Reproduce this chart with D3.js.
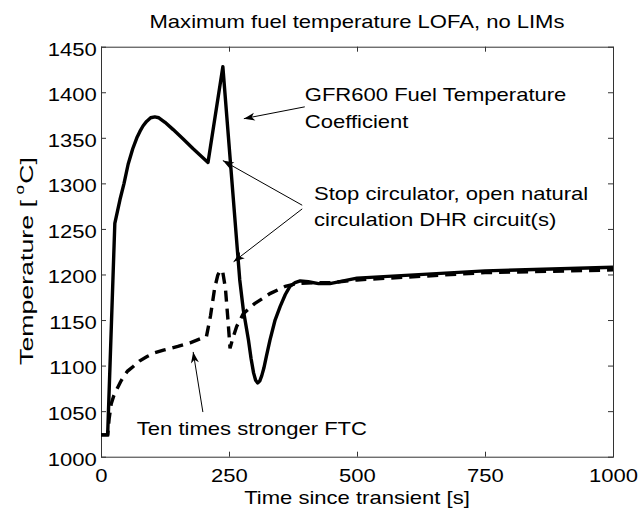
<!DOCTYPE html>
<html>
<head>
<meta charset="utf-8">
<script src="https://cdn.jsdelivr.net/npm/d3@7"></script>
<style>
  body { margin: 0; background: #fff; }
  text { font-family: "Liberation Sans", Arial, sans-serif; font-size: 19px; fill: #000; }
</style>
</head>
<body>
<script>
// data: time [s] and max fuel temperature [C]
const timeFTC = [0, 13, 27, 37, 45, 53, 62, 70, 76, 82, 89, 97, 105, 113, 125, 141, 160, 180, 209, 238, 271, 278, 288, 293, 298, 302, 306, 310, 314, 318, 323, 330, 340, 350, 360, 369, 379, 389, 405, 425, 447, 500, 750, 1000];
const tempFTC = [1024, 1024, 1256, 1282, 1300, 1321, 1338, 1350, 1357, 1363, 1368, 1372, 1373, 1372, 1367, 1359, 1349, 1338, 1323, 1428, 1194, 1161, 1128, 1108, 1092, 1084, 1081, 1083, 1089, 1097, 1110, 1128, 1150, 1165, 1178, 1187, 1191, 1193, 1192, 1190, 1190, 1196, 1204, 1208];

const timeStrong = [0, 13, 16, 20, 25, 31, 38, 44, 52, 63, 75, 90, 105, 122, 150, 174, 206, 214, 222, 228, 233, 238, 243, 248, 252, 258, 265, 278, 300, 330, 360, 382, 420, 450, 500, 750, 1000];
const tempStrong = [1024, 1024, 1042, 1058, 1067, 1074, 1082, 1088, 1094, 1099, 1105, 1110, 1114, 1117, 1121, 1125, 1132, 1155, 1185, 1199, 1205, 1202, 1185, 1150, 1119, 1131, 1143, 1157, 1168, 1179, 1187, 1190, 1191, 1191, 1194, 1202, 1205];

const xTicks = [0, 250, 500, 750, 1000];
const yTicks = [1000, 1050, 1100, 1150, 1200, 1250, 1300, 1350, 1400, 1450];

// annotations in data units: arrows are [tail x, tail y, head x, head y]
const notes = [
  { lines: ["GFR600 Fuel Temperature", "Coefficient"], at: [398, 1390], arrows: [[398, 1384, 279, 1371]] },
  { lines: ["Stop circulator, open natural", "circulation DHR circuit(s)"], at: [416, 1282], arrows: [[393, 1276, 238, 1325], [393, 1272, 259, 1214]] },
  { lines: ["Ten times stronger FTC"], at: [70, 1024], arrows: [[199, 1049, 180, 1115]] }
];

const W = 639, H = 510;
const margin = { top: 46.7, right: 26, bottom: 53.3, left: 101 };
const width = W - margin.left - margin.right,
  height = H - margin.top - margin.bottom;
const SX = 1.16; // the picture's text is stretched sideways

const root = d3.select("body").append("svg")
  .attr("width", W).attr("height", H);

root.append("defs").append("marker")
  .attr("id", "head")
  .attr("markerUnits", "userSpaceOnUse")
  .attr("viewBox", "-12 -5 13 10")
  .attr("refX", 0).attr("refY", 0)
  .attr("markerWidth", 13).attr("markerHeight", 10)
  .attr("orient", "auto")
  .append("path")
  .attr("d", "M0,0 L-11,-4 L-8,0 L-11,4 Z")
  .attr("fill", "#000");

const svg = root.append("g")
  .attr("transform", `translate(${margin.left},${margin.top})`);

const x = d3.scaleLinear().domain([0, 1000]).range([0, width]);
const y = d3.scaleLinear().domain([1000, 1450]).range([height, 0]);
const fmt = d3.format("d");

// axes, ticks pointing inward like matlab
const gx = svg.append("g").attr("transform", `translate(0,${height})`)
  .call(d3.axisBottom(x).tickValues(xTicks).tickFormat(fmt).tickSizeInner(-5).tickSizeOuter(0));
gx.selectAll(".tick text").attr("y", 25.6).attr("dy", 0)
  .attr("transform", `scale(${SX},1)`);

const gy = svg.append("g")
  .call(d3.axisLeft(y).tickValues(yTicks).tickFormat(fmt).tickSizeInner(-5).tickSizeOuter(0));
gy.selectAll(".tick text").attr("x", -4.3 / SX).attr("y", 8.3).attr("dy", 0)
  .attr("transform", `scale(${SX},1)`);

svg.append("g")
  .call(d3.axisTop(x).tickValues(xTicks).tickSizeInner(-5).tickSizeOuter(0).tickFormat(""));
svg.append("g").attr("transform", `translate(${width},0)`)
  .call(d3.axisRight(y).tickValues(yTicks).tickSizeInner(-5).tickSizeOuter(0).tickFormat(""));

svg.selectAll(".domain").remove();
svg.selectAll(".tick line").attr("stroke", "#333");
svg.selectAll(".tick text").attr("fill", "#000");

svg.append("rect")
  .attr("x", 0.5).attr("y", 0.5)
  .attr("width", width).attr("height", height)
  .attr("fill", "none").attr("stroke", "#333");

// curves
const line = d3.line().x(d => x(d[0])).y(d => y(d[1]));

svg.append("path")
  .datum(d3.zip(timeStrong, tempStrong))
  .attr("fill", "none")
  .attr("stroke", "#000")
  .attr("stroke-width", 3.4)
  .attr("stroke-dasharray", "11,7")
  .attr("d", line);

svg.append("path")
  .datum(d3.zip(timeFTC, tempFTC))
  .attr("fill", "none")
  .attr("stroke", "#000")
  .attr("stroke-width", 3.4)
  .attr("stroke-linejoin", "round")
  .attr("d", line);

// annotations
notes.forEach(n => {
  n.lines.forEach((s, i) => {
    svg.append("text")
      .attr("transform", `translate(${x(n.at[0])},${y(n.at[1]) + i * 26.6}) scale(${SX},1)`)
      .text(s);
  });
  n.arrows.forEach(a => {
    svg.append("line")
      .attr("x1", x(a[0])).attr("y1", y(a[1]))
      .attr("x2", x(a[2])).attr("y2", y(a[3]))
      .attr("stroke", "#000")
      .attr("stroke-width", 1)
      .attr("marker-end", "url(#head)");
  });
});

// title and axis labels
root.append("text")
  .attr("transform", `translate(${margin.left + width / 2},28.3) scale(${SX},1)`)
  .attr("text-anchor", "middle")
  .text("Maximum fuel temperature LOFA, no LIMs");

root.append("text")
  .attr("transform", `translate(${margin.left + width / 2},504) scale(${SX},1)`)
  .attr("text-anchor", "middle")
  .text("Time since transient [s]");

const ylab = root.append("text").attr("text-anchor", "middle");
ylab.append("tspan").text("Temperature [");
ylab.append("tspan").attr("font-size", 12).attr("dx", 4).attr("dy", -9).text("o");
ylab.append("tspan").attr("dx", 1).attr("dy", 9).text("C]");
const ylen = ylab.node().getComputedTextLength();
ylab.attr("transform", `translate(33.3,261) rotate(-90) scale(${201 / ylen},1)`);
</script>
</body>
</html>
